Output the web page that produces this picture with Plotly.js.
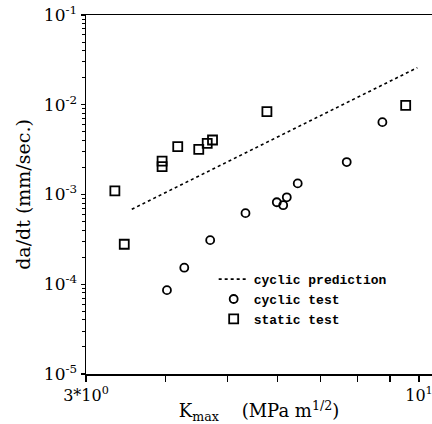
<!DOCTYPE html>
<html>
<head>
<meta charset="utf-8">
<script src="https://cdn.plot.ly/plotly-3.0.1.min.js"></script>
<style>
html,body{margin:0;padding:0;background:#fff;}
#chart{width:432px;height:424px;}
</style>
</head>
<body>
<div id="chart"></div>
<script>
// cyclic prediction (dashed line)
const predK = [3.54, 9.94];
const predRate = [6.84e-4, 2.59e-2];

// cyclic test (circles)
const cyclicK = [4.02, 4.28, 4.70, 5.34, 5.98, 6.12, 6.20, 6.45, 7.70, 8.76];
const cyclicRate = [8.6e-5, 1.53e-4, 3.1e-4, 6.2e-4, 8.2e-4, 7.6e-4, 9.3e-4, 1.33e-3, 2.3e-3, 6.4e-3];

// static test (squares)
const staticK = [3.33, 3.445, 3.95, 3.95, 4.18, 4.51, 4.65, 4.74, 5.77, 9.53];
const staticRate = [1.10e-3, 2.79e-4, 2.36e-3, 2.04e-3, 3.41e-3, 3.19e-3, 3.72e-3, 4.05e-3, 8.37e-3, 9.86e-3];

// axis ticks
const xTickVals = [3, 4, 5, 6, 7, 8, 9, 10];
const xTickText = ['3*10<sup>0</sup>', '', '', '', '', '', '', '10<sup>1</sup>'];
const yTickVals = [1e-5, 1e-4, 1e-3, 1e-2, 1e-1];
const yTickText = ['10<sup>-5</sup>', '10<sup>-4</sup>', '10<sup>-3</sup>', '10<sup>-2</sup>', '10<sup>-1</sup>'];
const yMinorVals = [];
[1e-5, 1e-4, 1e-3, 1e-2].forEach(d => { for (let m = 2; m <= 9; m++) yMinorVals.push(m * d); });

const serif = 'DejaVu Serif, Liberation Serif, serif';

const traces = [
  {
    x: predK, y: predRate, mode: 'lines', name: 'cyclic prediction',
    line: {color: '#000', width: 1.6, dash: '3px,3px'}
  },
  {
    x: cyclicK, y: cyclicRate, mode: 'markers', name: 'cyclic test',
    marker: {symbol: 'circle-open', size: 8, color: '#000', line: {width: 1.8, color: '#000'}}
  },
  {
    x: staticK, y: staticRate, mode: 'markers', name: 'static test',
    marker: {symbol: 'square-open', size: 9, color: '#000', line: {width: 1.8, color: '#000'}}
  }
];

const layout = {
  width: 432, height: 424,
  margin: {l: 86, r: 0, t: 15, b: 50},
  paper_bgcolor: '#fff', plot_bgcolor: '#fff',
  font: {family: serif, color: '#000', size: 16},
  showlegend: true,
  legend: {
    x: 0.369, y: 0.306, xanchor: 'left', yanchor: 'top',
    bgcolor: 'rgba(0,0,0,0)', borderwidth: 0,
    font: {family: 'Liberation Mono, DejaVu Sans Mono, monospace', size: 13, weight: 'bold', color: '#000'},
    tracegroupgap: 0
  },
  xaxis: {
    type: 'log', range: [Math.log10(3), 1.0204],
    showgrid: false, zeroline: false,
    showline: true, linecolor: '#000', linewidth: 1.5, mirror: true,
    ticks: 'outside', ticklen: 6, tickwidth: 1.3, tickcolor: '#000',
    tickmode: 'array', tickvals: xTickVals, ticktext: xTickText,
    ticklabeloverflow: 'allow',
    tickfont: {family: serif, size: 16},
    title: {text: 'K<sub>max</sub>    (MPa m<sup>1/2</sup>)', font: {family: serif, size: 18}, standoff: 6}
  },
  yaxis: {
    type: 'log', range: [-5, -1],
    showgrid: false, zeroline: false,
    showline: true, linecolor: '#000', linewidth: 1.5, mirror: false,
    ticks: 'outside', ticklen: 4, tickwidth: 1.3, tickcolor: '#000',
    tickmode: 'array', tickvals: yTickVals, ticktext: yTickText,
    tickfont: {family: serif, size: 17},
    minor: {tickmode: 'array', tickvals: yMinorVals, ticks: 'outside', ticklen: 3, tickwidth: 1, tickcolor: '#000'},
    title: {text: 'da/dt (mm/sec.)', font: {family: serif, size: 19}, standoff: 8}
  }
};

Plotly.newPlot('chart', traces, layout, {staticPlot: true, displayModeBar: false});
</script>
</body>
</html>
